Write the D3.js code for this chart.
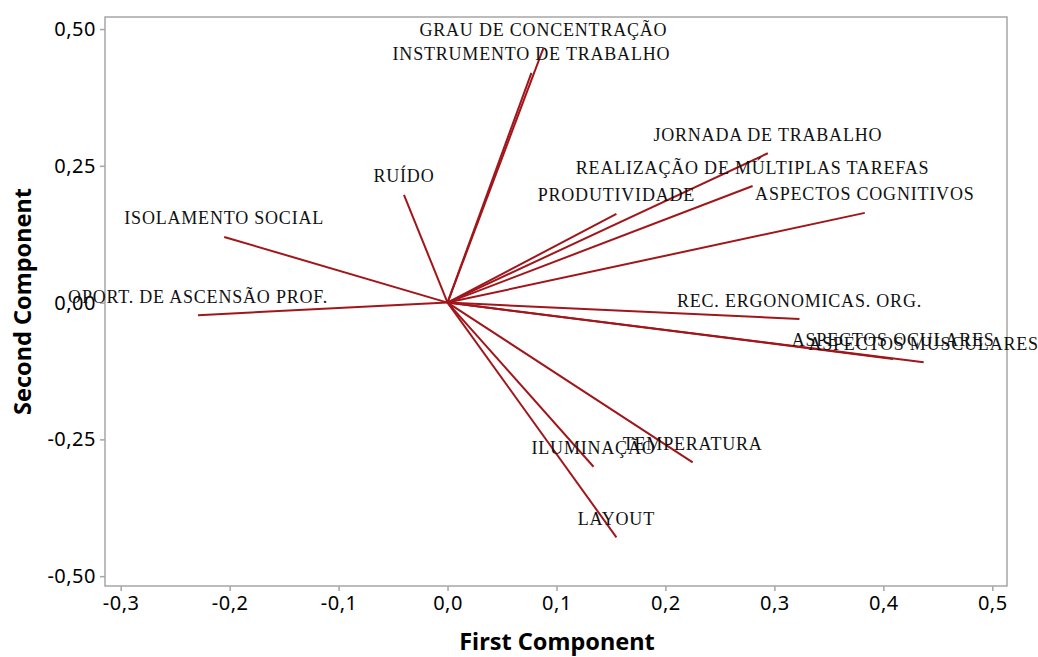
<!DOCTYPE html>
<html>
<head>
<meta charset="utf-8">
<script src="https://cdn.jsdelivr.net/npm/d3@7"></script>
<style>
  html, body { margin: 0; padding: 0; background: #fff; }
  svg { display: block; }
</style>
</head>
<body>
<svg id="chart" width="1038" height="657"></svg>
<script>
// Loading plot: variable loadings on the first two principal components
const variables = [
  "GRAU DE CONCENTRAÇÃO",
  "INSTRUMENTO DE TRABALHO",
  "JORNADA DE TRABALHO",
  "REALIZAÇÃO DE MÚLTIPLAS TAREFAS",
  "PRODUTIVIDADE",
  "ASPECTOS COGNITIVOS",
  "RUÍDO",
  "ISOLAMENTO SOCIAL",
  "OPORT. DE ASCENSÃO PROF.",
  "REC.  ERGONOMICAS. ORG.",
  "ASPECTOS OCULARES",
  "ASPECTOS MUSCULARES",
  "TEMPERATURA",
  "ILUMINAÇÃO",
  "LAYOUT"
];
const firstComponent = [
  0.088, 0.077, 0.294, 0.280, 0.155, 0.383, -0.040, -0.205,
  -0.229, 0.323, 0.409, 0.437, 0.225, 0.134, 0.155
];
const secondComponent = [
  0.465, 0.420, 0.273, 0.213, 0.162, 0.164, 0.197, 0.120,
  -0.023, -0.030, -0.103, -0.109, -0.292, -0.300, -0.429
];
const xTicks = [-0.3, -0.2, -0.1, 0.0, 0.1, 0.2, 0.3, 0.4, 0.5];
const yTicks = [-0.50, -0.25, 0.00, 0.25, 0.50];

const svg = d3.select("#chart");
const frame = { left: 105, right: 1007, top: 17, bottom: 586 };

const x = d3.scaleLinear().domain([-0.3144, 0.5135]).range([frame.left, frame.right]);
const y = d3.scaleLinear().domain([-0.518, 0.522]).range([frame.bottom, frame.top]);

const axisColor = "#a6a6a6";
const sans = "'Noto Sans', 'Open Sans', sans-serif";
const comma = v => v.toFixed(1).replace(".", ",");
const comma2 = v => v.toFixed(2).replace(".", ",");

// Plot frame
svg.append("rect")
  .attr("x", frame.left).attr("y", frame.top)
  .attr("width", frame.right - frame.left)
  .attr("height", frame.bottom - frame.top)
  .attr("fill", "none")
  .attr("stroke", axisColor)
  .attr("stroke-width", 1.5);

// Axes
const xAxis = svg.append("g")
  .attr("transform", `translate(0,${frame.bottom})`)
  .call(d3.axisBottom(x).tickValues(xTicks).tickFormat(comma).tickSize(5).tickPadding(5));
const yAxis = svg.append("g")
  .attr("transform", `translate(${frame.left},0)`)
  .call(d3.axisLeft(y).tickValues(yTicks).tickFormat(comma2).tickSize(5).tickPadding(4));

[xAxis, yAxis].forEach(g => {
  g.select(".domain").remove();
  g.selectAll(".tick line").attr("stroke", axisColor).attr("stroke-width", 1.5);
  g.selectAll(".tick text")
    .attr("fill", "#000")
    .style("font-family", sans)
    .style("font-size", "20px")
    .style("letter-spacing", "0.5px");
});

// Axis titles
svg.append("text")
  .attr("x", (frame.left + frame.right) / 2 + 1)
  .attr("y", 650)
  .attr("text-anchor", "middle")
  .style("font-family", sans)
  .style("font-size", "23.5px")
  .style("font-weight", "bold")
  .text("First Component");

svg.append("text")
  .attr("transform", `translate(31,${(frame.top + frame.bottom) / 2}) rotate(-90)`)
  .attr("text-anchor", "middle")
  .style("font-family", sans)
  .style("font-size", "23.5px")
  .style("font-weight", "bold")
  .text("Second Component");

// Loading vectors
const rows = variables.map((name, i) => ({ name, pc1: firstComponent[i], pc2: secondComponent[i] }));

svg.append("g").selectAll("line")
  .data(rows)
  .join("line")
  .attr("x1", x(0)).attr("y1", y(0))
  .attr("x2", d => x(d.pc1)).attr("y2", d => y(d.pc2))
  .attr("stroke", "#a0161a")
  .attr("stroke-width", 2);

// Variable labels, centred above each vector's tip
svg.append("g").selectAll("text")
  .data(rows)
  .join("text")
  .attr("x", d => x(d.pc1))
  .attr("y", d => y(d.pc2) - 12.5)
  .attr("text-anchor", "middle")
  .style("font-family", "'Liberation Serif', 'Times New Roman', serif")
  .style("font-size", "18px")
  .style("letter-spacing", "0.8px")
  .attr("fill", "#111")
  .text(d => d.name);
</script>
</body>
</html>
